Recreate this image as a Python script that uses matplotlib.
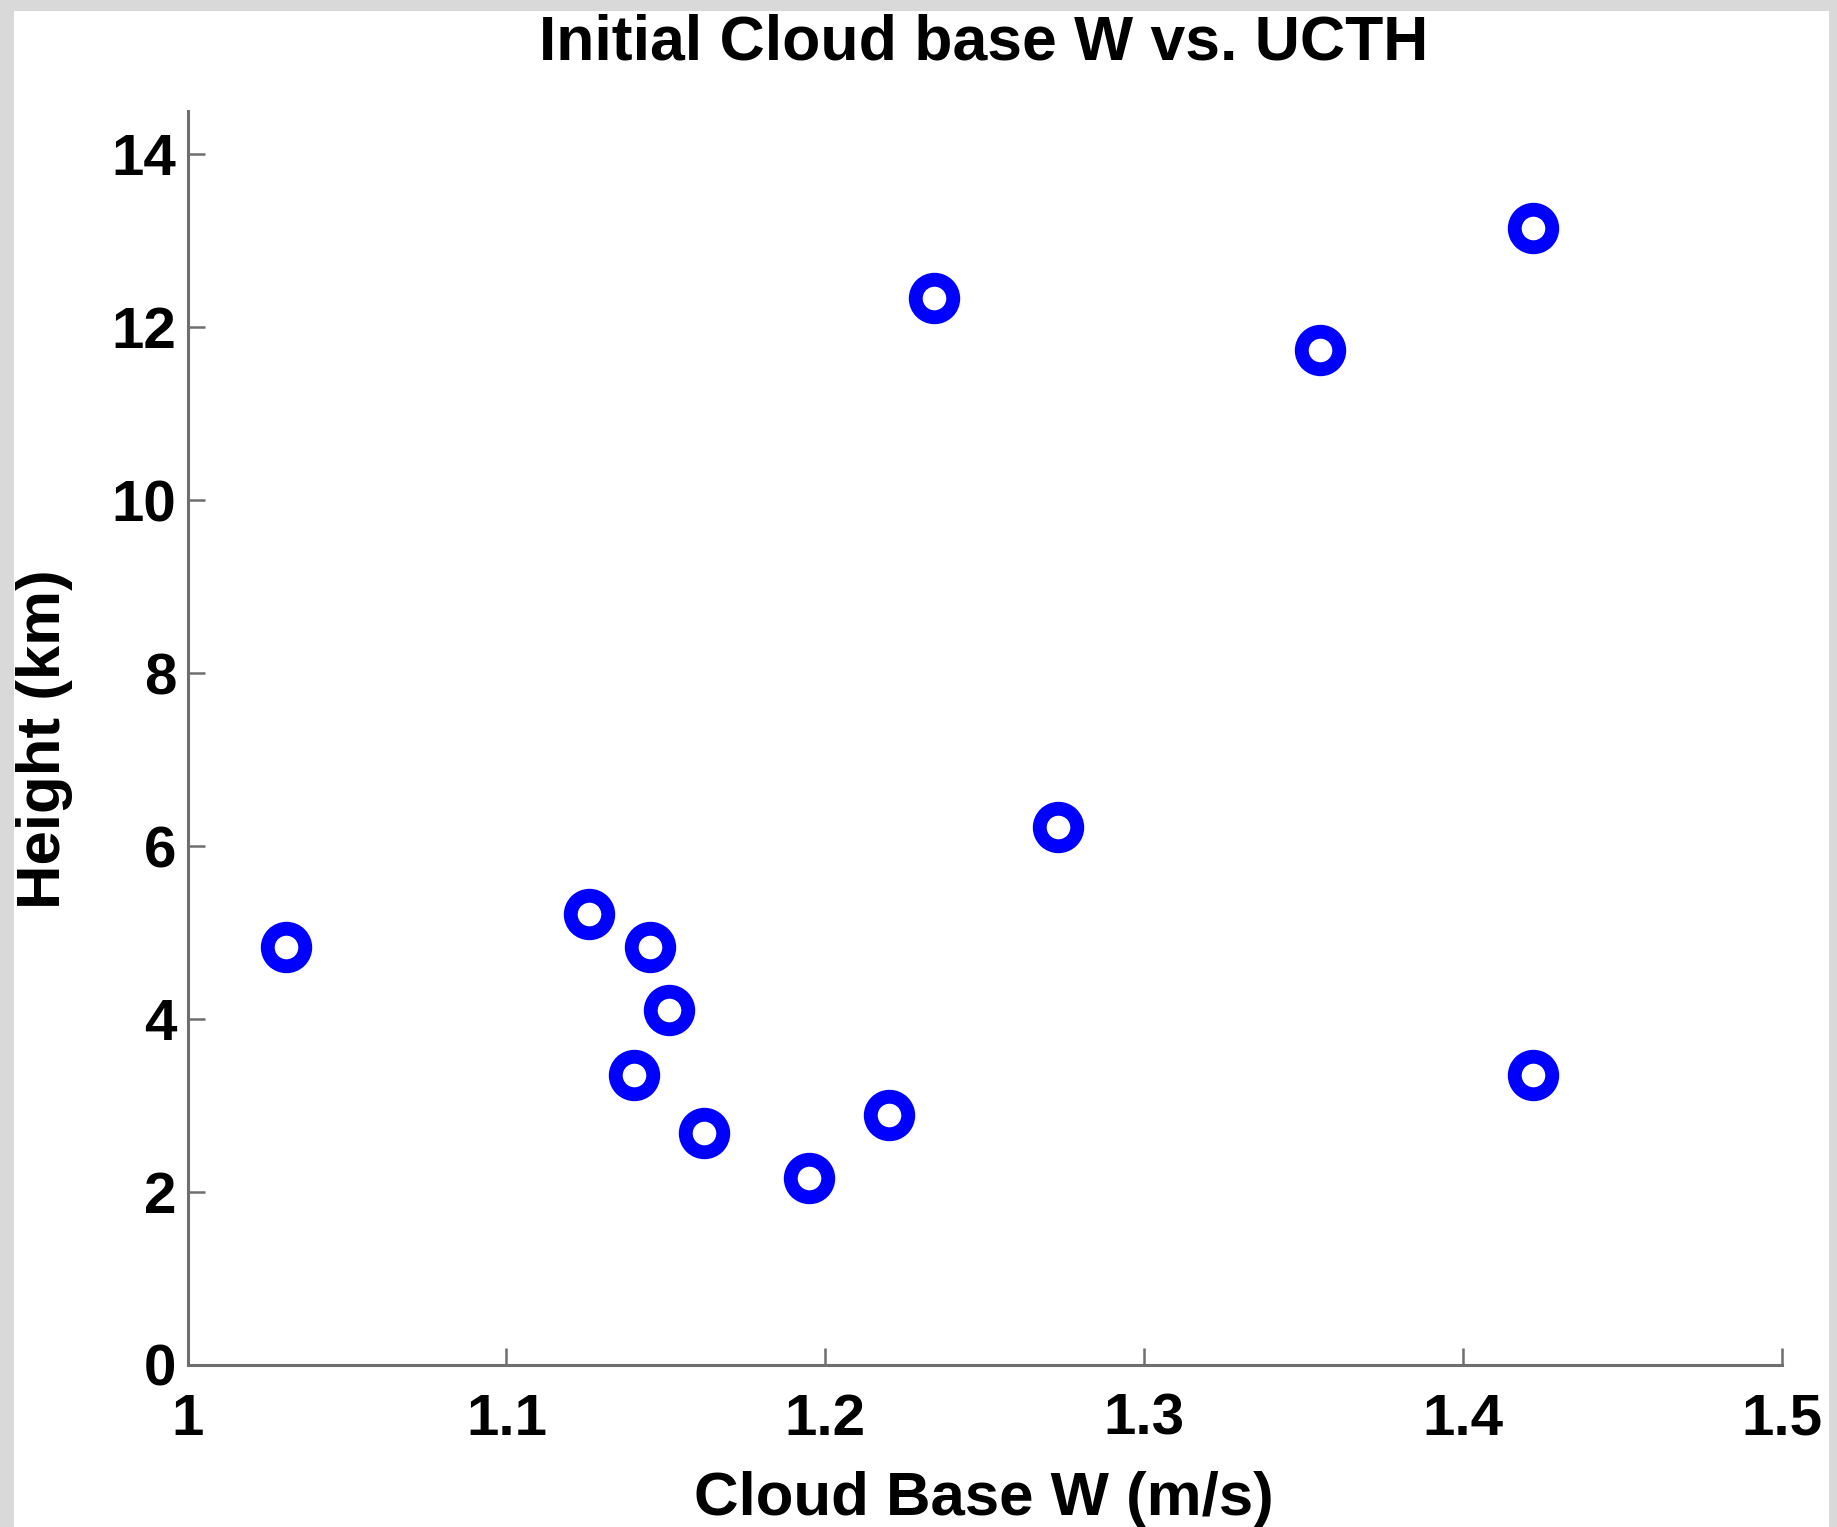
import matplotlib
matplotlib.use("Agg")
import matplotlib.pyplot as plt
from matplotlib.patches import Rectangle

# cloud base vertical velocity (m/s) and cloud top height (km)
cloud_base_w = [1.031, 1.126, 1.145, 1.151, 1.140, 1.162, 1.195, 1.220,
                1.234, 1.273, 1.355, 1.422, 1.422]
ucth_km = [4.83, 5.22, 4.83, 4.10, 3.35, 2.68, 2.16, 2.89,
           12.34, 6.22, 11.74, 13.15, 3.35]

x_ticks = [1, 1.1, 1.2, 1.3, 1.4, 1.5]
x_tick_labels = ["1", "1.1", "1.2", "1.3", "1.4", "1.5"]
y_ticks = [0, 2, 4, 6, 8, 10, 12, 14]

plt.rcParams['font.family'] = ['Liberation Sans', 'DejaVu Sans']
plt.rcParams['font.weight'] = 'bold'

W, H = 1837, 1527
fig = plt.figure(figsize=(W / 100, H / 100), dpi=100, facecolor='#d9d9d9')
# white panel inside the grey frame
fig.patches.append(Rectangle((14 / W, 0), (1829 - 14) / W, 1 - 11 / H,
                             transform=fig.transFigure, facecolor='white',
                             edgecolor='none', zorder=-10))

ax = fig.add_axes([187.5 / W, (H - 1365) / H, (1782 - 187.5) / W, (1365 - 111) / H])
ax.set_facecolor('none')
ax.set_zorder(5)

ax.plot(cloud_base_w, ucth_km, 'o', linestyle='none', markersize=27,
        markerfacecolor='none', markeredgecolor='#0000ff', markeredgewidth=10,
        clip_on=False)

ax.set_xlim(1, 1.5)
ax.set_ylim(0, 14.5)
ax.set_xticks(x_ticks)
ax.set_xticklabels(x_tick_labels)
ax.set_yticks(y_ticks)

for s in ['top', 'right']:
    ax.spines[s].set_visible(False)
for s in ['left', 'bottom']:
    ax.spines[s].set_color('#6e6e6e')
    ax.spines[s].set_linewidth(2.2)

ax.tick_params(direction='in', length=12, width=1.8, color='#6e6e6e',
               labelsize=42, labelcolor='black')
ax.tick_params(axis='x', pad=20)
ax.tick_params(axis='y', pad=8)
for lab in ax.get_xticklabels() + ax.get_yticklabels():
    lab.set_fontweight('bold')

fig.text(984 / W, 1 - 43 / H, "Initial Cloud base W vs. UCTH", ha='center',
         va='center', fontsize=45, fontweight='bold')
fig.text(984 / W, 1 - 1499 / H, "Cloud Base W (m/s)", ha='center',
         va='center', fontsize=44.5, fontweight='bold')
fig.text(45 / W, 1 - 739 / H, "Height (km)", ha='center', va='center',
         rotation=90, fontsize=44.5, fontweight='bold')

fig.savefig("out.png", dpi=100, facecolor=fig.get_facecolor())
